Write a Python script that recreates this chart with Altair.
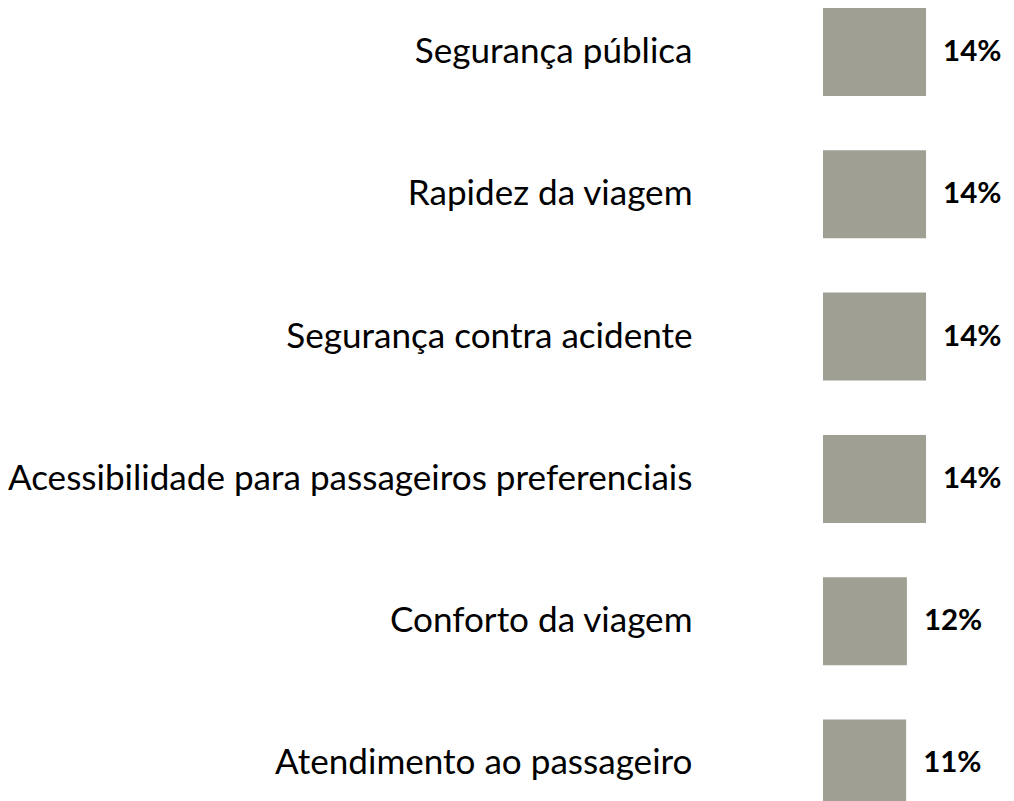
import altair as alt
import pandas as pd

categories = [
    "Segurança pública",
    "Rapidez da viagem",
    "Segurança contra acidente",
    "Acessibilidade para passageiros preferenciais",
    "Conforto da viagem",
    "Atendimento ao passageiro",
]
values = [14.0, 14.0, 14.0, 14.0, 11.4, 11.3]
labels = ["14%", "14%", "14%", "14%", "12%", "11%"]

df = pd.DataFrame({"cat": categories, "val": values, "lab": labels})

y = alt.Y(
    "cat:N",
    sort=categories,
    scale=alt.Scale(paddingInner=0.3816, paddingOuter=0),
    axis=alt.Axis(
        title=None, ticks=False, domain=False, labelPadding=131,
        labelFont="Lato", labelFontSize=35.1, labelColor="#000000",
        labelLimit=800, labelAlign="right", labelBaseline="middle",
    ),
)
x = alt.X("val:Q", scale=alt.Scale(domain=[0, 20], nice=False, zero=True), axis=None)

bars = alt.Chart(df).mark_bar(color="#a09f93").encode(x=x, y=y)
text = alt.Chart(df).mark_text(
    align="left", baseline="middle", dx=17, font="Lato", fontSize=29.5,
    fontWeight="bold", color="#000000",
).encode(x=x, y=y, text="lab:N")

chart = (bars + text).properties(
    width=147.2, height=799.5,
    autosize=alt.AutoSizeParams(type="none"),
    padding={"left": 815, "top": 0, "right": 35, "bottom": 0},
).configure_view(stroke=None)

chart.save("out.html", embed_options={"renderer": "svg", "actions": False})
